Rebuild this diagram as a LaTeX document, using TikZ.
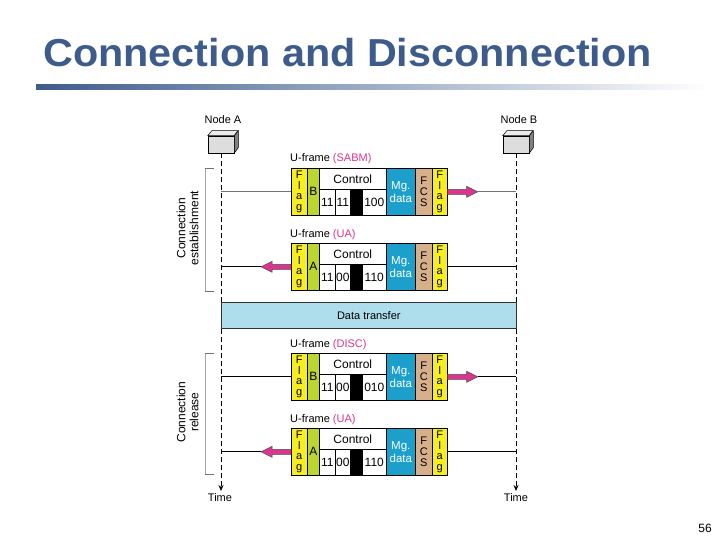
\documentclass[tikz,border=0pt]{standalone}
\usepackage{fontspec}
\setmainfont{Liberation Sans}
\usetikzlibrary{calc,arrows.meta}
\definecolor{titleblue}{HTML}{3D5C8C}
\definecolor{flagy}{HTML}{F7EE22}
\definecolor{addrg}{HTML}{BCD631}
\definecolor{mgblue}{HTML}{1CA0CB}
\definecolor{fcstan}{HTML}{D8AF8B}
\definecolor{mag}{HTML}{DC3590}
\definecolor{dtblue}{HTML}{AEDDEB}
\definecolor{boxgray}{HTML}{DDDDDD}
\tikzset{
  cell/.style={draw=black, line width=0.6pt, anchor=north west, inner sep=0pt, align=center, font=\fontsize{12}{12}\selectfont},
  flagc/.style={cell, fill=flagy, minimum height=47pt, font=\fontsize{11}{10.5}\selectfont},
  marrow/.style={draw=black!70, line width=0.5pt, fill=mag, line join=miter},
  lifeline/.style={draw=black, line width=0.6pt, dash pattern=on 5pt off 3pt, -{Stealth[length=6pt,width=5pt]}},
  bracketc/.style={draw=black!35, line width=0.6pt},
  lbl/.style={font=\fontsize{11}{12}\selectfont, inner sep=0pt},
}
% right-pointing fat arrow starting at #1, tip coordinate named #2
\newcommand{\rarrow}[2]{%
  \draw[marrow] (#1) -- ++(0,-2.5) -- ++(19,0) -- ++(0,-3) -- ++(11,5.5) -- ++(-11,5.5) -- ++(0,-3) -- ++(-19,0) -- cycle;
  \coordinate (#2) at ($(#1)+(30,0)$);
}
\newcommand{\larrow}[2]{%
  \draw[marrow] (#1) -- ++(0,-2.5) -- ++(-19,0) -- ++(0,-3) -- ++(-11,5.5) -- ++(11,5.5) -- ++(0,-3) -- ++(19,0) -- cycle;
  \coordinate (#2) at ($(#1)+(-30,0)$);
}
\newcommand{\uframe}[7]{%
  \node[lbl, anchor=base west] (#1lab) at (290,#2-6) {U-frame \textcolor{mag}{(#4)}};
  \node[flagc, minimum width=16pt] (#1f1) at (291,#2) {F\\l\\a\\g};
  \node[cell, fill=addrg, minimum width=12pt, minimum height=47pt] (#1ad) at (307,#2) {#3};
  \node[cell, fill=white, minimum width=67pt, minimum height=21pt] (#1ct) at (319,#2) {Control};
  \node[cell, fill=white, minimum width=16pt, minimum height=26pt] (#1c1) at (319,#2+21) {#5};
  \node[cell, fill=white, minimum width=15pt, minimum height=26pt] (#1c2) at (335,#2+21) {#6};
  \node[cell, fill=black, minimum width=12pt, minimum height=26pt] (#1cb) at (350,#2+21) {};
  \node[cell, fill=white, minimum width=24pt, minimum height=26pt] (#1c3) at (362,#2+21) {#7};
  \node[cell, fill=mgblue, text=white, minimum width=29pt, minimum height=47pt, font=\fontsize{11.5}{13}\selectfont] (#1mg) at (386,#2) {Mg.\\data};
  \node[cell, fill=fcstan, minimum width=17pt, minimum height=47pt, font=\fontsize{11}{11}\selectfont] (#1fc) at (415,#2) {F\\C\\S};
  \node[flagc, minimum width=15pt] (#1f2) at (432,#2) {F\\l\\a\\g};
}
\begin{document}
\begin{tikzpicture}[x=1pt,y=-1pt]
\useasboundingbox (0,0) rectangle (720,540);
\fill[white] (0,0) rectangle (720,540);
% title
\node[anchor=base west, inner sep=0pt, text=titleblue, font=\fontsize{39}{40}\bfseries\selectfont] (title) at (43,67) {\scalebox{1.06}[1]{Connection and Disconnection}};
\shade[left color=titleblue, right color=white] (36,85) rectangle (710,90);
\node[font=\fontsize{12}{12}\selectfont, inner sep=0pt] (pnum) at (705,528) {56};
% station nodes
\node[draw=black, line width=0.5pt, fill=boxgray, minimum width=26pt, minimum height=17pt, inner sep=0pt] (A) at (221,144.5) {};
\node[draw=black, line width=0.5pt, fill=boxgray, minimum width=26pt, minimum height=17pt, inner sep=0pt] (B) at (516,144.5) {};
\foreach \n in {A,B}{
  \draw[line width=0.5pt, fill=black!8] (\n.north west) -- ++(4,-5) -- ++(26,0) -- (\n.north east) -- cycle;
  \draw[line width=0.5pt, fill=black!50] (\n.north east) -- ++(4,-5) -- ++(0,17) -- (\n.south east) -- cycle;
}
\node[lbl, anchor=base] (Alab) at (223,124) {Node A};
\node[lbl, anchor=base] (Blab) at (519,124) {Node B};
\coordinate (Aend) at (221,491);
\coordinate (Bend) at (516,491);
\draw[lifeline] (A.south) -- (Aend);
\draw[lifeline] (B.south) -- (Bend);
\node[lbl, anchor=base] (Atime) at (220,501) {Time};
\node[lbl, anchor=base] (Btime) at (516,501) {Time};
% brackets
\draw[bracketc] (205,168) -- (205,291);
\draw[black!55, line width=0.6pt] (205,168) -- (214,168) (205,291) -- (214,291);
\draw[bracketc] (205,353) -- (205,474);
\draw[black!55, line width=0.6pt] (205,353) -- (214,353) (205,474) -- (214,474);
\node[lbl, rotate=90, align=center, font=\fontsize{12}{13}\selectfont] (estlab) at (187.5,228) {Connection\\establishment};
\node[lbl, rotate=90, align=center, font=\fontsize{12}{13}\selectfont] (rellab) at (187.5,412) {Connection\\release};
% data transfer
\node[draw=black!80, line width=0.6pt, fill=dtblue, anchor=north west, minimum width=295pt, minimum height=26pt, inner sep=0pt, font=\fontsize{11}{12}\selectfont] (dt) at (221,302) {Data transfer};
% frames
\uframe{s}{168}{B}{SABM}{11}{11}{100}
\uframe{u}{243}{A}{UA}{11}{00}{110}
\uframe{d}{353}{B}{DISC}{11}{00}{010}
\uframe{v}{428}{A}{UA}{11}{00}{110}
% SABM: A -> B
\draw[black!55, line width=0.8pt] (sf1.west -| A.south) -- (sf1.west);
\rarrow{sf2.east}{stip}
\draw[black!55, line width=0.8pt] (stip) -- (stip -| B.south);
% UA: B -> A
\draw[black, line width=0.8pt] (uf2.east) -- (uf2.east -| B.south);
\larrow{uf1.west}{utip}
\draw[black, line width=0.8pt] (utip) -- (utip -| A.south);
% DISC: A -> B
\draw[black, line width=0.8pt] (df1.west -| A.south) -- (df1.west);
\rarrow{df2.east}{dtip}
\draw[black, line width=0.8pt] (dtip) -- (dtip -| B.south);
% UA: B -> A
\draw[black, line width=0.8pt] (vf2.east) -- (vf2.east -| B.south);
\larrow{vf1.west}{vtip}
\draw[black, line width=0.8pt] (vtip) -- (vtip -| A.south);
\end{tikzpicture}
\end{document}
